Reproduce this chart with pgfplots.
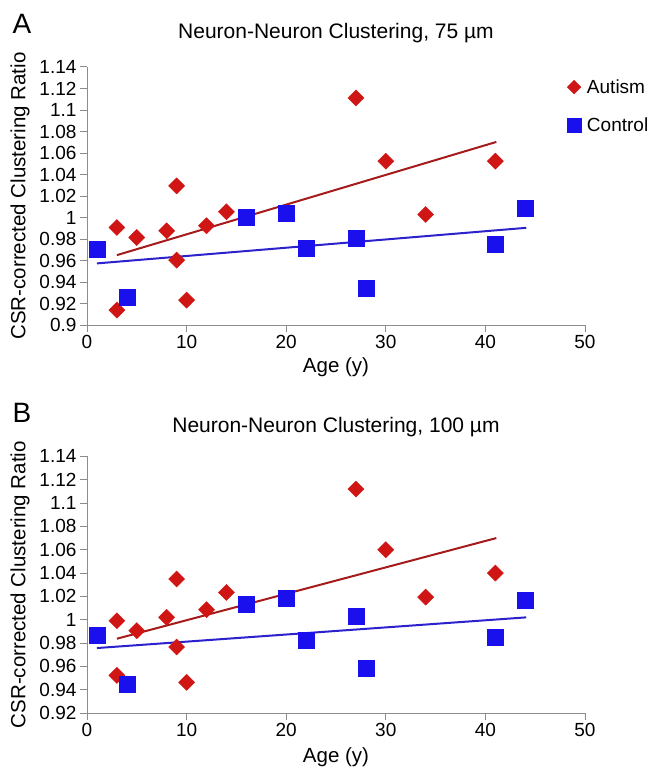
\documentclass[border=0pt]{standalone}
\usepackage{pgfplots}
\pgfplotsset{compat=1.18}
\usepackage{fontspec}
\setmainfont{Liberation Sans}

\definecolor{autred}{HTML}{D01515}
\definecolor{ctlblue}{HTML}{1A10EE}
\definecolor{autline}{HTML}{A51A1A}
\definecolor{ctlline}{HTML}{2B22CC}
\definecolor{axgray}{HTML}{8C8C8C}

% panel A, 75 um
\pgfplotstableread{
age ratio
3 0.9907
3 0.9139
5 0.9814
8 0.9876
9 1.0294
9 0.9604
10 0.9232
12 0.9923
14 1.0053
27 1.1112
30 1.0524
34 1.0028
41 1.0524
}\autA
\pgfplotstableread{
age ratio
1 0.9703
4 0.9263
16 1.0006
20 1.0044
22 0.9712
27 0.9805
28 0.9347
41 0.9749
44 1.0090
}\ctlA
% panel B, 100 um
\pgfplotstableread{
age ratio
3 0.9991
3 0.9523
5 0.9906
8 1.0020
9 1.0349
9 0.9766
10 0.9463
12 1.0086
14 1.0234
27 1.1120
30 1.0600
34 1.0194
41 1.0400
}\autB
\pgfplotstableread{
age ratio
1 0.9871
4 0.9449
16 1.0129
20 1.0186
22 0.9823
27 1.0034
28 0.9580
41 0.9849
44 1.0166
}\ctlB

\pgfplotsset{
  panel/.style={
    scale only axis, width=498pt, clip=false,
    xmin=0, xmax=50, xtick={0,10,20,30,40,50},
    axis x line=bottom, axis y line=left,
    axis line style={axgray, line width=1pt, -},
    tick style={axgray, line width=1pt},
    tick align=outside, major tick length=7pt,
    /pgf/number format/assume math mode=true,
    tick label style={font=\fontsize{19}{21}\selectfont, black},
    label style={font=\fontsize{20.5}{23}\selectfont},
    title style={font=\fontsize{21}{24}\selectfont},
    xlabel={Age (y)},
    ylabel={CSR-corrected Clustering Ratio},
    ylabel style={at={(axis description cs:-0.1345,0.5)}, anchor=center, rotate=0},
  },
  aut/.style={only marks, mark=square*, mark size=5.7pt,
    mark options={rotate=45, fill=autred, draw=autred}},
  ctl/.style={only marks, mark=square*, mark size=8pt,
    mark options={fill=ctlblue, draw=ctlblue}},
}

\begin{document}
\begin{tikzpicture}
\useasboundingbox (0,0) rectangle (648pt,-770pt);

\node[font=\fontsize{28}{31}\selectfont] at (22pt,-24pt) {A};
\node[font=\fontsize{28}{31}\selectfont] at (22pt,-413pt) {B};

\begin{axis}[panel,
    at={(87pt,-325pt)}, anchor=south west, height=258pt,
    ymin=0.9, ymax=1.14,
    ytick={0.9,0.92,0.94,0.96,0.98,1,1.02,1.04,1.06,1.08,1.1,1.12,1.14},
    title={Neuron-Neuron Clustering, 75 µm},
    title style={at={(axis description cs:0.5,1)}, anchor=base, yshift=22pt},
    xlabel style={at={(axis description cs:0.5,-0.163)}, anchor=center},
    legend style={at={(axis description cs:0.958,0.968)}, anchor=north west,
      draw=none, fill=none, row sep=19pt, font=\fontsize{19}{22}\selectfont},
    legend cell align=left,
    legend image code/.code={\draw[#1, scale=0.85] plot coordinates {(0pt,0pt)};},
  ]
  \addplot[autline, line width=2pt, forget plot] coordinates {(3,0.965) (41.1,1.0703)};
  \addplot[ctlline, line width=2pt, forget plot] coordinates {(1,0.9573) (44.1,0.9904)};
  \addplot[aut] table[x=age, y=ratio] {\autA};
  \addlegendentry{\hspace{4pt}Autism}
  \addplot[ctl] table[x=age, y=ratio] {\ctlA};
  \addlegendentry{\hspace{4pt}Control}
\end{axis}

\begin{axis}[panel,
    at={(87pt,-713pt)}, anchor=south west, height=256.6pt,
    ymin=0.92, ymax=1.14,
    ytick={0.92,0.94,0.96,0.98,1,1.02,1.04,1.06,1.08,1.1,1.12,1.14},
    title={Neuron-Neuron Clustering, 100 µm},
    title style={at={(axis description cs:0.5,1)}, anchor=base, yshift=18pt},
    xlabel style={at={(axis description cs:0.5,-0.171)}, anchor=center},
  ]
  \addplot[autline, line width=2pt] coordinates {(3,0.9837) (41.1,1.07)};
  \addplot[ctlline, line width=2pt] coordinates {(1,0.9757) (44.1,1.002)};
  \addplot[aut] table[x=age, y=ratio] {\autB};
  \addplot[ctl] table[x=age, y=ratio] {\ctlB};
\end{axis}
\end{tikzpicture}
\end{document}
